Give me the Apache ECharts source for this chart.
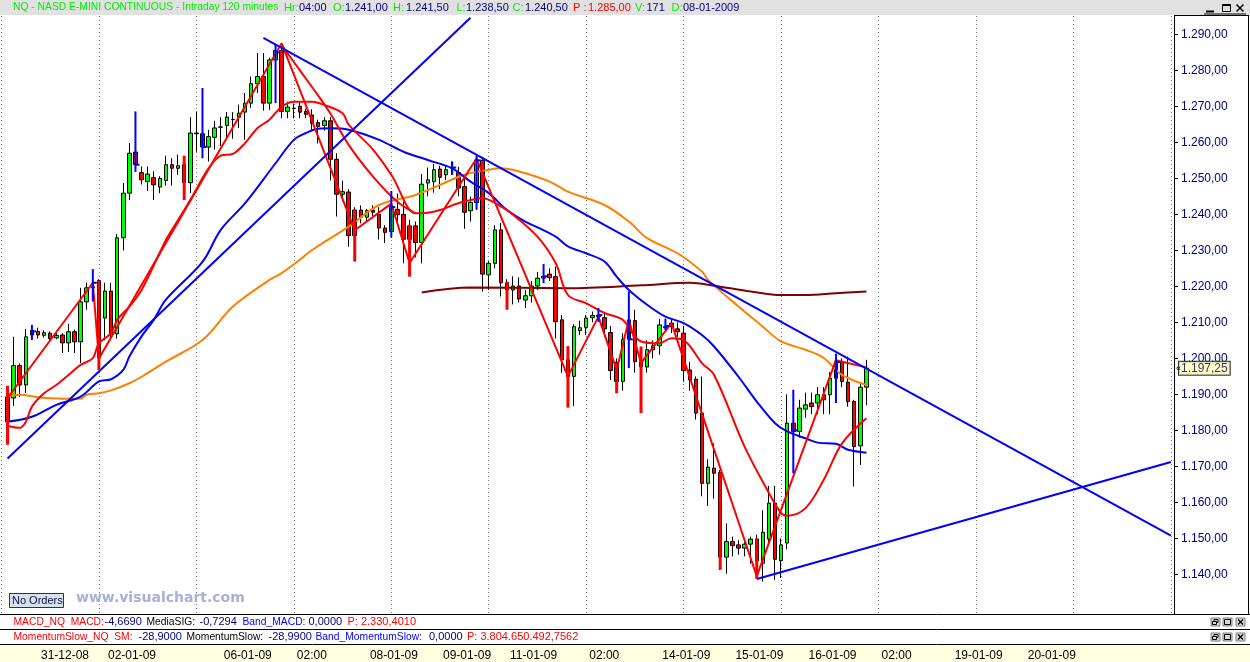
<!DOCTYPE html>
<html><head><meta charset="utf-8">
<script src="https://cdn.jsdelivr.net/npm/echarts@6/dist/echarts.min.js"></script>
<style>html,body{margin:0;padding:0;background:#fff}#c{width:1250px;height:662px}</style>
</head><body><div id="c"></div>
<script>
// ---------- DATA ----------
const N_CAT = 192; // bar slots on the time axis (data + empty future area)
const opens = [1182.4,1189,1198,1192.6,1206.5,1207.5,1206.4,1207,1205.7,1206.5,
1204.3,1207.4,1204.6,1215.7,1219.6,1221.6,1211.2,1218.7,1206.8,1233.5,
1245.9,1257.3,1251.6,1249.1,1250.2,1247.6,1249.4,1253.8,1252.8,1253.8,
1248.8,1262.4,1262.4,1258.7,1261.4,1264.2,1264.7,1266.3,1267,1268.4,
1270.9,1276.3,1278.3,1270.9,1282.9,1285.5,1268.6,1269.4,1270,1268.6,
1267.6,1265.5,1264.7,1266,1255.3,1245.6,1246.2,1234.1,1241.2,1239.2,
1241.2,1240,1236.2,1235.2,1241.4,1240,1236.8,1236.8,1232.2,1248.7,
1249.1,1252.6,1251,1252.8,1251.6,1247.7,1241,1243.3,1255,1223.2,
1226.4,1235.7,1221,1219,1220.1,1216.2,1217.4,1220.1,1222.3,1223.4,
1222.7,1210.7,1199.6,1195,1207.7,1208.6,1211.3,1211.6,1211.3,1207.2,
1198.9,1193.6,1210.7,1210.5,1199.1,1197.6,1202.4,1203.5,1208.5,1209.8,
1208.2,1207,1196.8,1194.2,1184.8,1165.3,1169.5,1168.3,1144.8,1149.1,
1148.2,1147.3,1148.4,1149.8,1143.1,1149.8,1159.8,1143.8,1148.7,1182,
1179.7,1185.9,1187.6,1187.6,1189.9,1189.9,1194.5,1199.1,1193.4,1188,
1175.7,1192];
const closes = [1189.3,1198,1192.6,1206,1207.8,1206.5,1207.1,1205.5,1206.4,1204.3,
1207.4,1204.6,1215.7,1219.6,1219.9,1200.3,1218.7,1206.8,1233.5,1245.9,
1257,1253.8,1249.6,1251.2,1248.2,1250,1253.8,1252.8,1253.5,1248.8,
1262.6,1262.6,1258.7,1261.6,1264,1264.3,1267,1266.4,1268.1,1270.9,
1276.3,1278.3,1270.9,1282.9,1285.5,1268.6,1269.8,1269.5,1268.4,1267.8,
1265.3,1264.4,1266,1255.3,1245.6,1246.3,1234.1,1241.2,1239.2,1241,
1240.6,1236.2,1235,1242.2,1239.9,1233.1,1233.1,1232.2,1248.4,1249.6,
1252.4,1250.3,1252.4,1253,1247.3,1240.6,1243.3,1255.1,1223.4,1226.4,
1235.7,1221,1219,1220.1,1216.5,1217.4,1220.1,1222.3,1222.8,1222.4,
1210.2,1199.6,1195,1208.8,1208.5,1211.2,1211.9,1212,1208.2,1196.6,
1193.6,1205.3,1205.3,1199.1,1197.7,1202.4,1203.5,1209.3,1208.8,1208.8,
1207.4,1196.6,1194,1184.8,1165.3,1169.8,1168.1,1144.8,1149.1,1148,
1147.3,1148.4,1149.8,1143.8,1151.7,1159.8,1144.2,1148.2,1182,1179.7,
1186.2,1187.1,1186.6,1189.9,1188.5,1194.5,1199.1,1193.6,1188,1175.5,
1192,1197.3];
const highs = [1190,1206,1198.6,1208.2,1208.5,1208.5,1207.8,1207.5,1207,1207,
1209.6,1208,1219.6,1221,1222,1222,1221,1221,1234.5,1248.7,
1259.8,1258.5,1253.3,1253.3,1252,1250.6,1256.3,1255.6,1256.6,1254.7,
1267,1268.6,1263,1263.5,1266,1267,1268.4,1268.4,1270.5,1273.7,
1278.3,1284.8,1284.8,1283.5,1287,1287.6,1271.3,1270.8,1271.3,1269.4,
1269.2,1266.3,1267,1267,1257,1249.4,1247,1242,1242.5,1241.5,
1242.5,1242,1237,1243,1245.8,1243.6,1238.5,1238,1251.2,1253,
1254,1253.5,1253.5,1254.7,1253.2,1250,1245,1256,1256,1227,
1237,1237.6,1222,1222.8,1222.5,1219,1221.5,1224,1224.5,1225,
1225.5,1212,1201,1209.5,1210.5,1212,1213,1213,1212.5,1209,
1200,1207,1212,1213.5,1201,1205,1205,1211,1211,1211,
1210,1209,1199,1195,1195,1172,1176.4,1169,1154.2,1150.5,
1149.5,1149.5,1150.5,1151,1157.8,1164.6,1164.6,1150,1190,1184,
1188.5,1190.5,1190.5,1192,1192,1196.2,1200.5,1200,1200.5,1188.5,
1193,1199.6];
const lows = [1181,1186.8,1189.3,1190.4,1205.5,1205.5,1205.8,1205,1205.3,1201.5,
1201.8,1201.5,1198.7,1213.5,1218,1196.8,1205,1205,1205.5,1230,
1244,1252.5,1248.3,1246.5,1244,1245.9,1248,1248,1251,1246.8,
1245.9,1257.4,1256,1254.7,1258,1259,1261,1261,1264,1260.7,
1269.6,1273.7,1268.8,1269,1281,1266.7,1266.7,1266.7,1266.7,1266.7,
1263.3,1259.7,1263.3,1249.4,1239.4,1243.6,1231,1227,1237.5,1238,
1239.5,1233,1232,1233.5,1237.5,1226.4,1226,1228,1226.4,1245,
1246,1247,1249.5,1251,1245,1236,1238,1241.3,1218.5,1219,
1225,1217.2,1214.4,1215,1215.5,1214,1215.5,1219,1221,1221.5,
1205.5,1196,1193,1186.8,1206.5,1206.5,1210,1210.2,1206,1194,
1190.5,1191,1203.5,1196,1195,1196,1200,1201,1207.9,1207,
1206,1193.5,1191,1183,1161.7,1159,1161,1141.3,1140.2,1145,
1145.5,1145,1143,1139,1138,1148,1138.5,1139,1147,1176,
1178,1183.5,1184.5,1184.5,1184.5,1184.5,1193,1192,1186.6,1164.4,
1170.4,1187];

// highlighted (blue) bars: [barIndex, low, high, close]
const blueBars = [[4,1205.1,1209.3,1207.5],[14,1215.8,1224.8,1221],[21,1251.8,1268.6,1253.8],
[32,1255.6,1275.1,1258.7],[44,1270.9,1287.1,1285],[63,1233.6,1246.5,1242],[73,1251,1254.7,1253],
[77,1241.3,1256.3,1255],[88,1220.9,1226.2,1222.8],[97,1210.2,1214,1212],[102,1197.3,1218.6,1205.3],
[108,1207.9,1211,1209],[129,1168.1,1191.3,1180],[136,1187.6,1201.3,1199]];
// zigzag pivot bars (red range marks): [barIndex, low, high]
const redMarks = [[0,1176,1192.4],[15,1196.8,1221.6],[29,1244,1256.3],[57,1226.9,1241.3],
[66,1222.7,1237.1],[82,1213.5,1221.3],[92,1186.3,1203.4],[100,1190.3,1198.7],[104,1184.8,1203.3],
[117,1141.3,1168.3],[123,1138.75,1150]];
// zigzag line pivots [barIndex, price]
const zigzag = [[0,1189],[14,1221],[15,1200],[45,1287.5],[57,1235.6],[63,1243],[66,1226.5],
[77,1255.5],[92,1195],[97,1211.6],[100,1196.8],[102,1210.7],[104,1198.7],[109,1209.8],
[123,1139.5],[136,1199.5],[141,1197.5]];
// moving averages [barIndex, price]
const redMA = [[0,1181.3],[2,1180.7],[3,1182.4],[4,1186.6],[6,1190.3],[8,1192.6],[10,1195.4],[12,1198.2],
[14,1200.1],[15,1204.2],[17,1207],[18,1210.7],[20,1214.4],[22,1219],[26,1232.9],[27,1235.7],[30,1244],
[33,1252.8],[35,1256.3],[37,1256.8],[39,1259.8],[41,1263.9],[43,1266.3],[45,1269.9],[47,1271.3],
[50,1271.3],[52,1270.4],[55,1268.1],[56,1264.9],[60,1258],[63,1251],[67,1240.3],[68,1240.3],
[71,1241.2],[74,1243.1],[78,1244.5],[81,1242.2],[83,1239.9],[87,1233.8],[90,1226.4],[92,1217.6],
[95,1215.3],[98,1212.6],[101,1210.7],[104,1204.7],[107,1204.2],[109,1205.6],[111,1205.1],[114,1198.7],
[116,1195.4],[121,1175.5],[125,1162.6],[127,1157],[128,1156.3],[131,1158.4],[134,1166.3],[137,1176.4],[141,1183.4]];
// faster red average falling from the top
const redFast = [[45,1287],[48,1280],[51,1273],[53,1268],[56,1259.3],[60,1250.5],[64,1243.5],[67,1240.3]];
const blueMA = [[0,1182.4],[4,1183.8],[8,1187.1],[12,1189.4],[15,1193.6],[17,1194.2],[19,1196.8],[20,1200.5],
[22,1206.1],[24,1210.7],[26,1216.3],[32,1226.8],[35,1235.7],[39,1243.1],[44,1254.2],[47,1260.7],[49,1262.6],
[51,1263.8],[53,1263.9],[56,1263.5],[61,1260.7],[65,1257.4],[69,1255.1],[73,1252.8],[76,1249.1],[79,1245.9],
[82,1241.2],[85,1238],[87,1236.4],[90,1233.8],[92,1231.1],[95,1229.2],[98,1226.9],[100,1222.7],[102,1219],
[105,1214.9],[108,1211.6],[111,1209.8],[114,1206.5],[116,1203.3],[120,1194.9],[123,1188],[126,1182],
[128,1179.7],[131,1177.8],[133,1176.6],[136,1176.3],[138,1174.6],[141,1173.8]];
const orangeMA = [[0,1189.4],[2,1189.9],[5,1189.2],[9,1188.8],[12,1188.8],[13,1189.9],[15,1190.3],[17,1191.1],
[20,1193.1],[22,1194.9],[26,1199.1],[32,1205.1],[37,1214.4],[43,1221.8],[45,1223.7],[48,1227.4],[50,1230.1],
[56,1236.6],[61,1242.6],[67,1245.4],[71,1248.2],[75,1251],[79,1252.4],[81,1252.8],[84,1251.9],[89,1249.1],
[92,1246.3],[98,1242.6],[102,1238],[105,1233.4],[110,1229.2],[114,1224.1],[115,1221.8],[120,1214.4],
[124,1208.8],[127,1204.7],[131,1202.4],[134,1200.1],[137,1195.4],[141,1192.6]];
const maroonMA = [[68,1218.3],[76,1219.7],[92,1219.5],[104,1220.3],[112,1221],[116,1220.2],[122,1218.6],
[127,1217.6],[131,1217.6],[136,1218.1],[141,1218.6]];
// hand-drawn trend lines [barIndex, price]
const trend1 = [[0,1172.2],[76,1294.6]];
const trend2 = [[42,1289],[191,1150.8]];
const trend3 = [[123,1138.7],[191,1171.2]];
// axis ticks
const priceTicks = [1140,1150,1160,1170,1180,1190,1200,1210,1220,1230,1240,1250,1260,1270,1280,1290];
const dateTickIdx = [5,16,31,35,47,59,71,82,95,107,119,131,143,155,167];
const dateTickLabels = ['31-12-08','02-01-09','','06-01-09','02:00','08-01-09','09-01-09','11-01-09','02:00','14-01-09','15-01-09','16-01-09','02:00','19-01-09','20-01-09'];
const lastPrice = 1197.25;

// ---------- BUILD ----------
const FONT = 'Liberation Sans, Arial, sans-serif';
function fmtPrice(v){
  const s = Number(v).toFixed(2).split('.');
  return s[0].replace(/\B(?=(\d{3})+(?!\d))/g,'.') + ',' + s[1];
}
const cats = Array.from({length:N_CAT},(_,i)=>String(i));
const candleData = opens.map((o,i)=>[o, closes[i], lows[i], highs[i]]);
const tickSet = new Set(dateTickIdx);
const bottomCats = cats.map((c,i)=>{ const k = dateTickIdx.indexOf(i); return k>=0 ? dateTickLabels[k] : ''; });

function lineSeries(data, color, smooth){
  return {type:'line', xAxisIndex:0, yAxisIndex:0, data:data, smooth:smooth?0.35:false,
    symbol:'none', showSymbol:false, silent:true, clip:true,
    lineStyle:{color:color, width:2}, z:3};
}
function T(text, x, y, color, size, weight, family){
  return {type:'text', x:x, y:y, silent:true, z:20,
    style:{text:text, fill:color, fontSize:size||11, fontWeight:weight||'normal',
      fontFamily:family||FONT, verticalAlign:'middle', align:'left'}};
}
function L(x1,y1,x2,y2,color,w){
  return {type:'line', silent:true, z:20, shape:{x1:x1,y1:y1,x2:x2,y2:y2}, style:{stroke:color||'#000', lineWidth:w||1}};
}
function btn(x,y,kind){
  const els = [{type:'rect', silent:true, z:20, shape:{x:x,y:y,width:9,height:8}, style:{fill:'#d8d8d8', stroke:'#808080', lineWidth:1}}];
  if(kind==='restore'){
    els.push({type:'rect', silent:true, z:21, shape:{x:x+3,y:y+1.5,width:4,height:3}, style:{fill:'none', stroke:'#000', lineWidth:1}});
    els.push({type:'rect', silent:true, z:21, shape:{x:x+1.5,y:y+3.5,width:4,height:3}, style:{fill:'#d8d8d8', stroke:'#000', lineWidth:1}});
  } else if(kind==='max'){
    els.push({type:'rect', silent:true, z:21, shape:{x:x+1.5,y:y+1.5,width:6,height:5}, style:{fill:'none', stroke:'#000', lineWidth:1}});
  } else {
    els.push(L(x+2,y+1.5,x+7,y+6.5,'#000',1.2)); els.push(L(x+7,y+1.5,x+2,y+6.5,'#000',1.2));
  }
  return els;
}

const headerGreen = '#00ee00', navy = '#000080';
const LB = 10.3; // label font size in the indicator strips
const graphics = [
  {type:'rect', silent:true, z:-5, shape:{x:0,y:0,width:1250,height:15}, style:{fill:'#e1e1e1'}},
  {type:'rect', silent:true, z:-5, shape:{x:0,y:644,width:1250,height:18}, style:{fill:'#ffffe1'}},
  T('NQ - NASD E-MINI CONTINUOUS - Intraday 120 minutes', 13, 7.5, headerGreen, 10.3),
  T('Hr:', 284, 7.5, headerGreen), T('04:00', 299, 7.5, navy),
  T('O:', 333, 7.5, headerGreen), T('1.241,00', 345, 7.5, navy),
  T('H:', 393, 7.5, headerGreen), T('1.241,50', 406, 7.5, navy),
  T('L:', 456.5, 7.5, headerGreen), T('1.238,50', 466, 7.5, navy),
  T('C:', 512.5, 7.5, headerGreen), T('1.240,50', 525, 7.5, navy),
  T('P :', 573, 7.5, '#ff0000'), T('1.285,00', 588, 7.5, '#ff0000'),
  T('V:', 635, 7.5, headerGreen), T('171', 646.5, 7.5, navy),
  T('D:', 671.5, 7.5, headerGreen), T('08-01-2009', 683, 7.5, navy),
  // window buttons in header
  L(1206,11.5,1214,11.5,'#000',2),
  {type:'rect', silent:true, z:20, shape:{x:1222.5,y:4.5,width:8,height:7}, style:{fill:'none', stroke:'#000', lineWidth:1}},
  L(1222.5,5,1230.5,5,'#000',2),
  L(1236.5,4.5,1243.5,11.5,'#000',1.5), L(1243.5,4.5,1236.5,11.5,'#000',1.5),
  L(1204,14,1246,14,'#000',1),
  // frame lines
  L(1174,15.5,1249,15.5), L(1248.5,15,1248.5,614),
  L(0,614.5,1250,614.5), L(0,629.5,1250,629.5), L(0,644.5,1250,644.5),
  // MACD strip
  T('MACD_NQ  MACD:', 13.5, 622, '#ff0000', LB), T('-4,6690', 104.5, 622, navy),
  T('MediaSIG:', 146.5, 622, '#000000', LB), T('-0,7294', 199.5, 622, navy),
  T('Band_MACD:', 242.5, 622, '#0000ff', LB), T('0,0000', 308.5, 622, navy),
  T('P: 2.330,4010', 347.5, 622, '#ff0000'),
  // Momentum strip
  T('MomentumSlow_NQ  SM:', 13.5, 637, '#ff0000', LB), T('-28,9000', 138.5, 637, navy),
  T('MomentumSlow:', 186.5, 637, '#000000', LB), T('-28,9900', 268.5, 637, navy),
  T('Band_MomentumSlow:', 315.5, 637, '#0000ff', LB), T('0,0000', 429, 637, navy),
  T('P: 3.804.650.492,7562', 467, 637, '#ff0000'),
  ...btn(1211,618,'restore'), ...btn(1223,618,'max'), ...btn(1236,618,'close'),
  ...btn(1211,633,'restore'), ...btn(1223,633,'max'), ...btn(1236,633,'close'),
  // No Orders + watermark
  {type:'rect', silent:true, z:20, shape:{x:9.5,y:593.5,width:54,height:14}, style:{fill:'#d6e2ee', stroke:'#303040', lineWidth:1}},
  T('No Orders', 12, 600.5, '#101040', 11),
  T('www.visualchart.com', 76, 598.5, '#a9b0d8', 14, 'bold', 'DejaVu Sans, Verdana, sans-serif'),
  // small arrow beside the last-price box
  T('\u00ab', 1176, 368.5, '#000000', 9)
];

const option = {
  backgroundColor:'#ffffff',
  animation:false,
  grid:[
    {left:4.5, right:76, top:16, height:598, show:false},
    {left:1.46, right:76, top:16, height:598, show:false},
    {left:4.5, right:76, top:644, height:18, show:false}
  ],
  xAxis:[
    {type:'category', gridIndex:0, data:cats, boundaryGap:true,
     axisLine:{show:false}, axisTick:{show:false}, axisLabel:{show:false}, splitLine:{show:false}},
    {type:'value', gridIndex:1, min:0, max:192.5, interval:16,
     axisLine:{show:false}, axisTick:{show:false}, axisLabel:{show:false},
     splitLine:{show:true, lineStyle:{color:'#808080', width:1, type:[1,3]}}},
    {type:'category', gridIndex:2, data:bottomCats, boundaryGap:true, position:'top',
     axisLine:{show:false},
     axisTick:{show:true, inside:true, alignWithLabel:true, length:7, lineStyle:{color:'#000'},
       interval:(i)=>tickSet.has(i)},
     axisLabel:{show:true, inside:true, align:'left', margin:6, padding:[0,0,0,3],
       fontSize:12, fontFamily:FONT, color:'#000', interval:(i)=>tickSet.has(i)},
     splitLine:{show:false}}
  ],
  yAxis:[
    {type:'value', gridIndex:0, position:'right', min:1129, max:1295.1, scale:true,
     axisLine:{show:true, lineStyle:{color:'#000', width:1}},
     axisTick:{show:true, length:4, lineStyle:{color:'#000'}, customValues:priceTicks},
     axisLabel:{show:true, margin:7, fontSize:12, fontFamily:FONT, color:'#000080',
       customValues:priceTicks, formatter:fmtPrice},
     splitLine:{show:false}},
    {type:'value', gridIndex:1, show:false},
    {type:'value', gridIndex:2, show:false}
  ],
  graphic:{elements:graphics},
  series:[
    {type:'candlestick', xAxisIndex:0, yAxisIndex:0, data:candleData, barWidth:4,
     itemStyle:{color:'#00ff00', color0:'#ff0000', borderColor:'#000', borderColor0:'#000', borderWidth:1},
     silent:true, z:2},
    {type:'custom', xAxisIndex:0, yAxisIndex:0, data:redMarks, silent:true, z:4,
     encode:{x:0, y:[1,2]},
     renderItem:(p,api)=>{
       const lo = api.coord([api.value(0), api.value(1)]);
       const hi = api.coord([api.value(0), api.value(2)]);
       return {type:'line', shape:{x1:lo[0],y1:lo[1],x2:hi[0],y2:hi[1]}, style:{stroke:'#ff0000', lineWidth:3}};
     }},
    {type:'custom', xAxisIndex:0, yAxisIndex:0, data:blueBars, silent:true, z:4,
     encode:{x:0, y:[1,2,3]},
     renderItem:(p,api)=>{
       const lo = api.coord([api.value(0), api.value(1)]);
       const hi = api.coord([api.value(0), api.value(2)]);
       const cl = api.coord([api.value(0), api.value(3)]);
       return {type:'group', children:[
         {type:'line', shape:{x1:lo[0],y1:lo[1],x2:hi[0],y2:hi[1]}, style:{stroke:'#0000ff', lineWidth:2}},
         {type:'line', shape:{x1:cl[0],y1:cl[1],x2:cl[0]+4,y2:cl[1]}, style:{stroke:'#0000ff', lineWidth:2}}
       ]};
     }},
    lineSeries(orangeMA, '#ff8000', true),
    lineSeries(maroonMA, '#800000', true),
    lineSeries(blueMA, '#0000ff', true),
    lineSeries(redMA, '#ff0000', true),
    lineSeries(redFast, '#ff0000', true),
    lineSeries(zigzag, '#ff0000', false),
    lineSeries(trend1, '#0000ff', false),
    lineSeries(trend2, '#0000ff', false),
    lineSeries(trend3, '#0000ff', false),
    // last-price tag on the price axis
    {type:'scatter', xAxisIndex:0, yAxisIndex:0, data:[[191, lastPrice]], symbolSize:0.1, silent:true, z:10,
     itemStyle:{color:'rgba(0,0,0,0)'},
     label:{show:true, position:'right', distance:8, formatter:()=>fmtPrice(lastPrice),
       backgroundColor:'#ffffc0', borderColor:'#000', borderWidth:1, padding:[1,2,0,2],
       color:'#000040', fontSize:12, fontFamily:FONT}}
  ]
};
const chart = echarts.init(document.getElementById('c'), null, {renderer:'canvas'});
chart.setOption(option);
</script></body></html>
